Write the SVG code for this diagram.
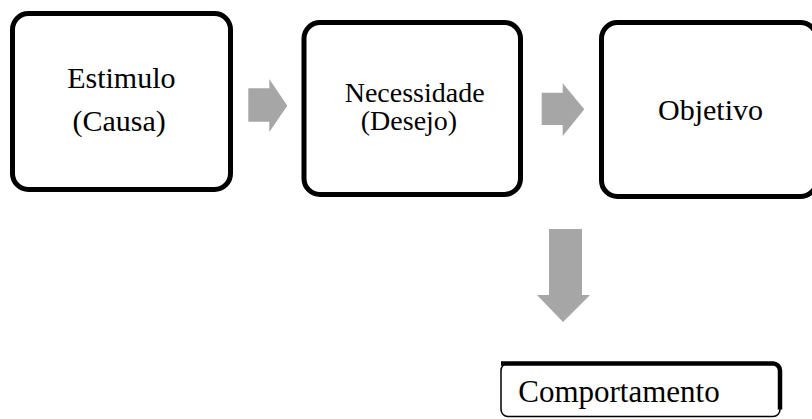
<svg xmlns="http://www.w3.org/2000/svg" width="812" height="419" viewBox="0 0 812 419">
<style>
.box{fill:#fff;stroke:#000;stroke-width:5}
.arr{fill:#a6a6a6;stroke:none}
.t{font-family:"Liberation Serif","Times New Roman",serif;fill:#000;text-anchor:middle}
</style>
<rect width="812" height="419" fill="#fff"/>
<g id="connectors">
<polygon class="arr" points="248.3,88.3 269.3,88.3 269.3,79 287.3,105.7 269.3,132 269.3,121.7 248.3,121.7"/>
<polygon class="arr" points="541.7,92.7 562.7,92.7 562.7,83.3 584.3,109.3 562.7,136 562.7,125 541.7,125"/>
<polygon class="arr" points="549,229 582,229 582,295 590,295 563,322 537,295 549,295"/>
</g>
<g id="estimulo">
<rect class="box" x="12.5" y="13.5" width="218" height="176" rx="16"/>
<text class="t" x="121.3" y="88" font-size="30">Estimulo</text>
<text class="t" x="119.2" y="131" font-size="30">(Causa)</text>
</g>
<g id="necessidade">
<rect class="box" x="304" y="22.5" width="216.5" height="172" rx="16"/>
<text class="t" x="414.7" y="102" font-size="28">Necessidade</text>
<text class="t" x="409" y="130" font-size="28">(Desejo)</text>
</g>
<g id="objetivo">
<rect class="box" x="601.5" y="22.5" width="215" height="174" rx="16"/>
<text class="t" x="710.5" y="120" font-size="30">Objetivo</text>
</g>
<g id="comportamento">
<rect x="501" y="363.5" width="279" height="53" rx="7" fill="#fff" stroke="#000" stroke-width="1.5"/>
<path d="M501,363.5 H773 A7,7 0 0 1 780,370.5 V409.5" fill="none" stroke="#000" stroke-width="4.5"/>
<text class="t" x="619" y="402" font-size="31">Comportamento</text>
</g>
</svg>
